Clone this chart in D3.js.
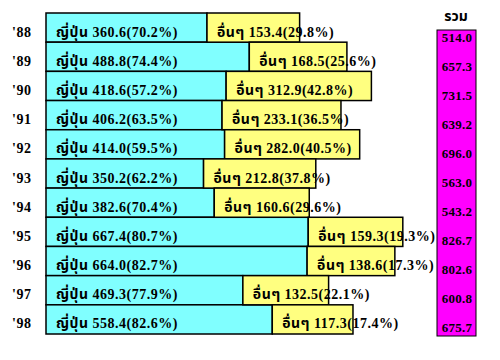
<!DOCTYPE html>
<html><head><meta charset="utf-8">
<script src="https://cdn.jsdelivr.net/npm/d3@7"></script>
<style>
html,body{margin:0;padding:0;background:#fff;}
text{font-family:"Liberation Serif","Noto Sans Thai","Noto Serif Thai",serif;font-weight:bold;fill:#000;}
</style>
</head><body>
<svg id="chart" width="500" height="360"></svg>
<script>
const years = ["'88","'89","'90","'91","'92","'93","'94","'95","'96","'97","'98"];
const japan = [360.6, 488.8, 418.6, 406.2, 414.0, 350.2, 382.6, 667.4, 664.0, 469.3, 558.4];
const japanPct = [70.2, 74.4, 57.2, 63.5, 59.5, 62.2, 70.4, 80.7, 82.7, 77.9, 82.6];
const others = [153.4, 168.5, 312.9, 233.1, 282.0, 212.8, 160.6, 159.3, 138.6, 132.5, 117.3];
const othersPct = [29.8, 25.6, 42.8, 36.5, 40.5, 37.8, 29.6, 19.3, 17.3, 22.1, 17.4];
const totals = [514.0, 657.3, 731.5, 639.2, 696.0, 563.0, 543.2, 826.7, 802.6, 600.8, 675.7];
const japanLabel = "ญี่ปุ่น";
const othersLabel = "อื่นๆ";
const totalHeader = "รวม";

const svg = d3.select("#chart");
const left = 46, pad = 42;
const x = d3.scaleLinear().domain([0, 900]).range([0, 297]);
const y = d3.scaleBand().domain(years).range([13, 334]).padding(0);
const yt = d3.scaleBand().domain(years).range([22.5, 341.5]).padding(0);

const rows = years.map((yr, i) => ({yr, j: japan[i], jp: japanPct[i], o: others[i], op: othersPct[i], t: totals[i]}));

// year labels
svg.selectAll("text.yr").data(rows).enter().append("text")
  .attr("class","yr").attr("x", 12)
  .attr("y", d => y(d.yr) + y.bandwidth()/2 + 9)
  .attr("font-size", 14).attr("letter-spacing", 0.5).text(d => d.yr);

// japan bars
const jw = d => x(d.j) + pad;
svg.selectAll("rect.jp").data(rows).enter().append("rect")
  .attr("x", left).attr("y", d => y(d.yr))
  .attr("width", jw).attr("height", y.bandwidth())
  .attr("fill", "#80ffff").attr("stroke", "#000").attr("stroke-width", 1.5);

// others bars
const ox = d => left + jw(d);
svg.selectAll("rect.ot").data(rows).enter().append("rect")
  .attr("x", ox).attr("y", d => y(d.yr))
  .attr("width", d => x(d.o) + pad).attr("height", y.bandwidth())
  .attr("fill", "#ffff80").attr("stroke", "#000").attr("stroke-width", 1.5);

// bar texts
svg.selectAll("text.jt").data(rows).enter().append("text")
  .attr("x", left + 10).attr("y", d => y(d.yr) + y.bandwidth()/2 + 9)
  .attr("font-size", 14).attr("letter-spacing", 0.5)
  .text(d => `${japanLabel} ${d.j.toFixed(1)}(${d.jp.toFixed(1)}%)`);
svg.selectAll("text.ott").data(rows).enter().append("text")
  .attr("x", d => ox(d) + 10).attr("y", d => y(d.yr) + y.bandwidth()/2 + 9)
  .attr("font-size", 14).attr("letter-spacing", 0.5)
  .text(d => `${othersLabel} ${d.o.toFixed(1)}(${d.op.toFixed(1)}%)`);

// totals column
svg.append("rect").attr("x", 437).attr("y", 30).attr("width", 39).attr("height", 306)
  .attr("fill", "#ff00ff").attr("stroke", "#000").attr("stroke-width", 1);
svg.append("text").attr("x", 456).attr("y", 21).attr("text-anchor","middle")
  .attr("font-size", 14).text(totalHeader);
svg.selectAll("text.tot").data(rows).enter().append("text")
  .attr("x", 457).attr("y", d => yt(d.yr) + yt.bandwidth()/2 + 5)
  .attr("text-anchor","middle").attr("font-size", 13).attr("letter-spacing", 0.3)
  .text(d => d.t.toFixed(1));
</script>
</body></html>
